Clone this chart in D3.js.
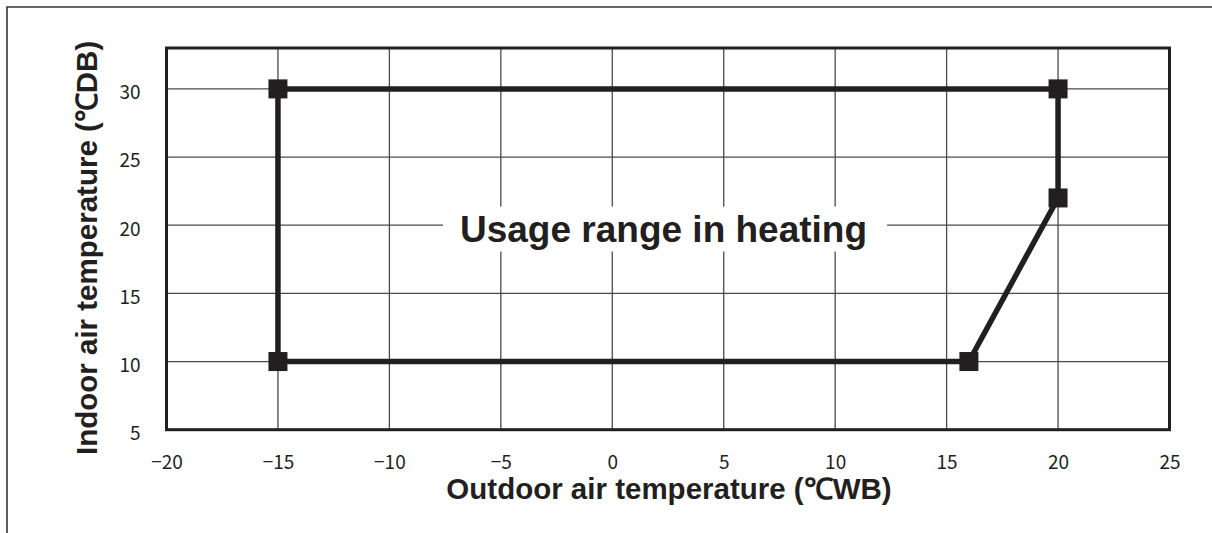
<!DOCTYPE html>
<html>
<head>
<meta charset="utf-8">
<script src="https://cdn.jsdelivr.net/npm/d3@7"></script>
<style>
  html, body { margin: 0; padding: 0; background: #fff; }
  svg { display: block; }
</style>
</head>
<body>
<svg id="chart" width="1212" height="533"></svg>
<script>
// Operating envelope corners (outdoor ℃WB, indoor ℃DB), drawn as a closed outline
const outdoorWB = [-15, 20, 20, 16, -15];
const indoorDB  = [30, 30, 22, 10, 10];

const xTicks = [-20, -15, -10, -5, 0, 5, 10, 15, 20, 25];
const yTicks = [5, 10, 15, 20, 25, 30];
const xDomain = [-20, 25];
const yDomain = [5, 33];

const rangeLabel = "Usage range in heating";
const rangeLabelAt = [2.3, 18.8];
const xTitle = "Outdoor air temperature (℃WB)";
const yTitle = "Indoor air temperature (℃DB)";

const ink = "#231f20";
const W = 1212, H = 533;
const plot = { left: 166.5, right: 1169.5, top: 48, bottom: 429.7 };

const svg = d3.select("#chart");

// outer frame (top and left edges)
svg.append("path")
  .attr("d", `M7,${H} L7,7 L${W},7`)
  .attr("fill", "none").attr("stroke", "#333").attr("stroke-width", 1.6);

const x = d3.scaleLinear().domain(xDomain).range([plot.left, plot.right]);
const y = d3.scaleLinear().domain(yDomain).range([plot.bottom, plot.top]);

// grid
const grid = svg.append("g").attr("stroke", "#4a4a4a").attr("stroke-width", 1.3);
grid.selectAll("line.v").data(xTicks.slice(1, -1)).join("line")
  .attr("x1", d => x(d)).attr("x2", d => x(d))
  .attr("y1", plot.top).attr("y2", plot.bottom);
grid.selectAll("line.h").data(yTicks.slice(1)).join("line")
  .attr("x1", plot.left).attr("x2", plot.right)
  .attr("y1", d => y(d)).attr("y2", d => y(d));

// axes (labels only; frame drawn separately)
const xAxis = svg.append("g")
  .attr("transform", `translate(0,${plot.bottom})`)
  .call(d3.axisBottom(x).tickValues(xTicks).tickSize(0).tickPadding(0)
    .tickFormat(d => d3.format("")(d).replace("-", "\u2212")));
xAxis.select(".domain").remove();
xAxis.selectAll("text").attr("dy", 0).attr("y", 39);

const yAxis = svg.append("g")
  .attr("transform", `translate(${plot.left},0)`)
  .call(d3.axisLeft(y).tickValues(yTicks).tickSize(0).tickPadding(26));
yAxis.select(".domain").remove();
yAxis.selectAll("text").attr("dy", "0.52em");

svg.selectAll(".tick text")
  .attr("fill", ink)
  .style("font-family", "'Noto Sans CJK JP', 'Noto Sans', sans-serif")
  .style("font-size", "19px");

// in-plot label with white backing
const lblG = svg.append("g");
const lbl = lblG.append("text")
  .attr("x", x(rangeLabelAt[0])).attr("y", y(rangeLabelAt[1]))
  .attr("text-anchor", "middle")
  .attr("fill", ink)
  .style("font-family", "'Liberation Sans', Arial, sans-serif")
  .style("font-weight", "bold")
  .style("font-size", "37px")
  .text(rangeLabel);
const bb = lbl.node().getBBox();
lblG.insert("rect", "text")
  .attr("x", bb.x - 17).attr("y", bb.y - 2)
  .attr("width", bb.width + 37).attr("height", bb.height + 4)
  .attr("fill", "#fff");

// plot frame
svg.append("rect")
  .attr("x", plot.left).attr("y", plot.top)
  .attr("width", plot.right - plot.left).attr("height", plot.bottom - plot.top)
  .attr("fill", "none").attr("stroke", ink).attr("stroke-width", 3);

// envelope outline and corner markers
const pts = outdoorWB.map((v, i) => [v, indoorDB[i]]);
svg.append("path")
  .datum(pts)
  .attr("d", d3.line().x(d => x(d[0])).y(d => y(d[1])).curve(d3.curveLinearClosed))
  .attr("fill", "none").attr("stroke", ink).attr("stroke-width", 5.5)
  .attr("stroke-linejoin", "miter");

const ms = 19;
svg.selectAll("rect.marker").data(pts).join("rect")
  .attr("class", "marker")
  .attr("x", d => x(d[0]) - ms / 2).attr("y", d => y(d[1]) - ms / 2)
  .attr("width", ms).attr("height", ms)
  .attr("fill", ink);

// axis titles
const titleStyle = sel => sel
  .attr("fill", ink)
  .style("font-family", "'Liberation Sans', Arial, sans-serif")
  .style("font-weight", "bold")
  .style("font-size", "29.5px");

svg.append("text")
  .attr("x", (plot.left + plot.right) / 2 + 1).attr("y", 499)
  .attr("text-anchor", "middle")
  .call(titleStyle)
  .text(xTitle);

svg.append("text")
  .attr("transform", `translate(97,${(plot.top + plot.bottom) / 2 + 9}) rotate(-90)`)
  .attr("text-anchor", "middle")
  .call(titleStyle)
  .text(yTitle);
</script>
</body>
</html>
